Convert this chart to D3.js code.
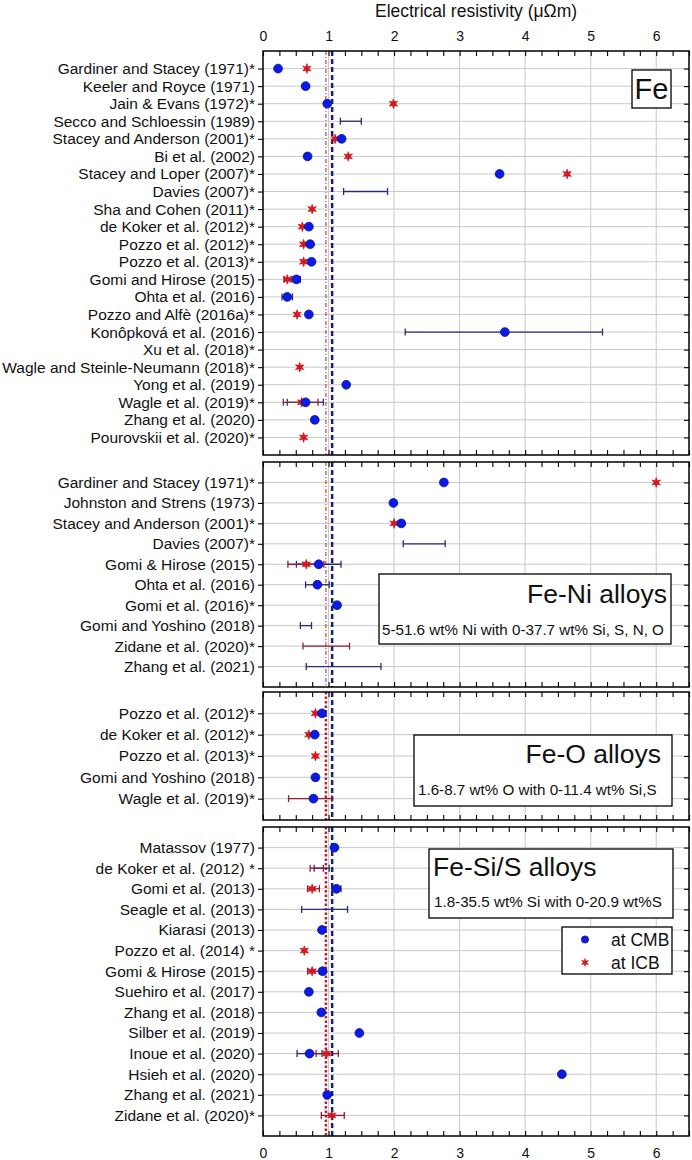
<!DOCTYPE html>
<html>
<head>
<meta charset="utf-8">
<script src="https://cdn.jsdelivr.net/npm/d3@7"></script>
<style>
  body { margin: 0; background: #fff; }
  svg text { font-family: "Liberation Sans", Arial, sans-serif; fill: #111; }
</style>
</head>
<body>
<svg id="chart" width="692" height="1160"></svg>
<script>
// ---------- data ----------
const xTicks = [0, 1, 2, 3, 4, 5, 6];
const refIcb = 0.96;   // red reference line
const refCmb = 1.055;  // blue reference line

// Fe
const feLabels = ["Gardiner and Stacey (1971)*", "Keeler and Royce (1971)", "Jain & Evans (1972)*",
  "Secco and Schloessin (1989)", "Stacey and Anderson (2001)*", "Bi et al. (2002)", "Stacey and Loper (2007)*",
  "Davies (2007)*", "Sha and Cohen (2011)*", "de Koker et al. (2012)*", "Pozzo et al. (2012)*",
  "Pozzo et al. (2013)*", "Gomi and Hirose (2015)", "Ohta et al. (2016)", "Pozzo and Alfè (2016a)*",
  "Konôpková et al. (2016)", "Xu et al. (2018)*", "Wagle and Steinle-Neumann (2018)*", "Yong et al. (2019)",
  "Wagle et al. (2019)*", "Zhang et al. (2020)", "Pourovskii et al. (2020)*"];
const feCmb = [0.23, 0.65, 0.98, null, 1.20, 0.68, 3.61, null, null, 0.70, 0.72,
  0.74, 0.51, 0.37, 0.70, 3.69, null, null, 1.27, 0.65, 0.79, null];
const feCmbErr = [null, null, null, [1.18, 1.50], null, null, null, [1.23, 1.90], null, null, null,
  null, [0.46, 0.57], [0.29, 0.45], null, [2.17, 5.18], null, null, null, [0.37, 0.92], [0.75, 0.83], null];
const feIcb = [0.67, null, 1.99, null, 1.10, 1.30, 4.64, null, 0.75, 0.60, 0.62,
  0.62, 0.37, null, 0.52, null, null, 0.56, null, 0.59, null, 0.62];
const feIcbErr = [null, null, null, null, null, null, null, null, null, null, null,
  null, [0.32, 0.43], null, null, null, null, null, null, [0.31, 0.84], null, null];

// Fe-Ni alloys
const niLabels = ["Gardiner and Stacey (1971)*", "Johnston and Strens (1973)", "Stacey and Anderson (2001)*",
  "Davies (2007)*", "Gomi & Hirose (2015)", "Ohta et al. (2016)", "Gomi et al. (2016)*",
  "Gomi and Yoshino (2018)", "Zidane et al. (2020)*", "Zhang et al. (2021)"];
const niCmb = [2.76, 1.99, 2.11, null, 0.85, 0.83, 1.13, null, null, null];
const niCmbErr = [null, null, null, [2.14, 2.78], [0.51, 1.19], [0.65, 1.01], null, [0.57, 0.74], null, [0.66, 1.80]];
const niIcb = [6.00, null, 2.00, null, 0.66, null, null, null, null, null];
const niIcbErr = [null, null, null, null, [0.38, 0.93], null, null, null, [0.61, 1.32], null];

// Fe-O alloys
const oLabels = ["Pozzo et al. (2012)*", "de Koker et al. (2012)*", "Pozzo et al. (2013)*",
  "Gomi and Yoshino (2018)", "Wagle et al. (2019)*"];
const oCmb = [0.90, 0.79, null, 0.80, 0.77];
const oCmbErr = [null, null, null, null, null];
const oIcb = [0.80, 0.70, 0.80, null, null];
const oIcbErr = [null, null, null, null, [0.39, 1.05]];

// Fe-Si/S alloys
const siLabels = ["Matassov (1977)", "de Koker et al. (2012) *", "Gomi et al. (2013)", "Seagle et al. (2013)",
  "Kiarasi (2013)", "Pozzo et al. (2014) *", "Gomi & Hirose (2015)", "Suehiro et al. (2017)",
  "Zhang et al. (2018)", "Silber et al. (2019)", "Inoue et al. (2020)", "Hsieh et al. (2020)",
  "Zhang et al. (2021)", "Zidane et al. (2020)*"];
const siCmb = [1.09, null, 1.12, null, 0.90, null, 0.91, 0.70, 0.89, 1.47, 0.71, 4.56, 0.98, null];
const siCmbErr = [null, [0.78, 1.01], [1.05, 1.19], [0.59, 1.29], null, null, null, null, null, null,
  [0.52, 0.90], null, null, null];
const siIcb = [null, null, 0.75, null, null, 0.63, 0.75, null, null, null, 0.97, null, null, 1.05];
const siIcbErr = [null, [0.72, 0.92], [0.68, 0.86], null, null, null, [0.68, 0.86], null, null, null,
  [0.81, 1.15], null, null, [0.89, 1.24]];

// ---------- chart ----------
const svg = d3.select("#chart");
const blue = "#0b1ae6", blueEdge = "#0a1290", navy = "#2a2e70";
const red = "#e3131b", maroon = "#8e1f34";
const x = d3.scaleLinear().domain([0, 6.5]).range([263, 689]);
const minorTicks = d3.range(0, 6.51, 0.25);

// six-pointed star like the plotting program's
const star6 = {
  draw(ctx, size) {
    const R = Math.sqrt(size) * 0.62, r = R * 0.45;
    for (let k = 0; k < 12; k++) {
      const a = -Math.PI / 2 + k * Math.PI / 6, rr = k % 2 ? r : R;
      if (k === 0) ctx.moveTo(rr * Math.cos(a), rr * Math.sin(a));
      else ctx.lineTo(rr * Math.cos(a), rr * Math.sin(a));
    }
    ctx.closePath();
  }
};

const panels = [
  { labels: feLabels, cmb: feCmb, cmbErr: feCmbErr, icb: feIcb, icbErr: feIcbErr, top: 51, bottom: 455, thinRed: true },
  { labels: niLabels, cmb: niCmb, cmbErr: niCmbErr, icb: niIcb, icbErr: niIcbErr, top: 462, bottom: 687, thinRed: true },
  { labels: oLabels, cmb: oCmb, cmbErr: oCmbErr, icb: oIcb, icbErr: oIcbErr, top: 692, bottom: 820, thinRed: false },
  { labels: siLabels, cmb: siCmb, cmbErr: siCmbErr, icb: siIcb, icbErr: siIcbErr, top: 827, bottom: 1136, thinRed: false }
];

panels.forEach((p, pi) => {
  const y = d3.scalePoint().domain(d3.range(p.labels.length)).range([p.top, p.bottom]).padding(1);
  const g = svg.append("g");

  // grid
  g.append("g").selectAll("line").data(xTicks.slice(1)).join("line")
    .attr("x1", d => x(d)).attr("x2", d => x(d))
    .attr("y1", p.top).attr("y2", p.bottom)
    .attr("stroke", "#c9c9c9").attr("stroke-width", 1);
  g.append("g").selectAll("line").data(y.domain()).join("line")
    .attr("x1", x(0)).attr("x2", x(6.5))
    .attr("y1", d => y(d)).attr("y2", d => y(d))
    .attr("stroke", "#c9c9c9").attr("stroke-width", 1);

  // reference lines
  g.append("line")
    .attr("x1", x(refIcb)).attr("x2", x(refIcb)).attr("y1", p.top).attr("y2", p.bottom)
    .attr("stroke", "#b3262a")
    .attr("stroke-width", p.thinRed ? 1 : 2.5)
    .attr("stroke-dasharray", p.thinRed ? "4,2,1,2" : "2.5,2");
  g.append("line")
    .attr("x1", x(refCmb)).attr("x2", x(refCmb)).attr("y1", p.top).attr("y2", p.bottom)
    .attr("stroke", "#1b1f78").attr("stroke-width", 2.5).attr("stroke-dasharray", "5,3");

  // error bars
  const bars = [];
  p.cmbErr.forEach((e, i) => { if (e) bars.push({ i, lo: e[0], hi: e[1], c: navy }); });
  p.icbErr.forEach((e, i) => { if (e) bars.push({ i, lo: e[0], hi: e[1], c: maroon }); });
  const bg = g.append("g").selectAll("g").data(bars).join("g")
    .attr("stroke", d => d.c).attr("stroke-width", 1.3);
  bg.append("line")
    .attr("x1", d => x(d.lo)).attr("x2", d => x(d.hi))
    .attr("y1", d => y(d.i)).attr("y2", d => y(d.i));
  bg.append("line")
    .attr("x1", d => x(d.lo)).attr("x2", d => x(d.lo))
    .attr("y1", d => y(d.i) - 3.5).attr("y2", d => y(d.i) + 3.5);
  bg.append("line")
    .attr("x1", d => x(d.hi)).attr("x2", d => x(d.hi))
    .attr("y1", d => y(d.i) - 3.5).attr("y2", d => y(d.i) + 3.5);

  // markers
  const icbPts = p.icb.map((v, i) => ({ v, i })).filter(d => d.v != null);
  const cmbPts = p.cmb.map((v, i) => ({ v, i })).filter(d => d.v != null);
  g.append("g").selectAll("path").data(icbPts).join("path")
    .attr("d", d3.symbol().type(star6).size(64))
    .attr("transform", d => `translate(${x(d.v)},${y(d.i)})`)
    .attr("fill", red).attr("stroke", "#a0101a").attr("stroke-width", 0.5);
  g.append("g").selectAll("circle").data(cmbPts).join("circle")
    .attr("cx", d => x(d.v)).attr("cy", d => y(d.i)).attr("r", 4.4)
    .attr("fill", blue).attr("stroke", blueEdge).attr("stroke-width", 0.8);

  // frame
  g.append("rect")
    .attr("x", x(0)).attr("y", p.top)
    .attr("width", x(6.5) - x(0)).attr("height", p.bottom - p.top)
    .attr("fill", "none").attr("stroke", "#000").attr("stroke-width", 1.5);

  // axes
  const left = g.append("g").attr("transform", `translate(${x(0)},0)`)
    .call(d3.axisLeft(y).tickSize(5).tickPadding(3).tickFormat(i => p.labels[i]));
  left.select(".domain").remove();
  left.selectAll("text").attr("font-size", 15.5).attr("font-family", "Liberation Sans, Arial, sans-serif");

  const right = g.append("g").attr("transform", `translate(${x(6.5)},0)`)
    .call(d3.axisLeft(y).tickSize(5).tickFormat(""));
  right.select(".domain").remove();

  const topAx = g.append("g").attr("transform", `translate(0,${p.top})`)
    .call(d3.axisBottom(x).tickValues(minorTicks).tickSize(5).tickFormat(""));
  topAx.select(".domain").remove();
  const botAx = g.append("g").attr("transform", `translate(0,${p.bottom})`)
    .call(d3.axisTop(x).tickValues(minorTicks).tickSize(5).tickFormat(""));
  botAx.select(".domain").remove();

  g.selectAll(".tick line").attr("stroke", "#000").attr("stroke-width", 1.1);

  if (pi === 0) {
    const lab = g.append("g").attr("transform", `translate(0,${p.top})`)
      .call(d3.axisTop(x).tickValues(xTicks).tickSize(0).tickPadding(10).tickFormat(d3.format("d")));
    lab.select(".domain").remove();
    lab.selectAll("text").attr("font-size", 14).attr("font-family", "Liberation Sans, Arial, sans-serif");
  }
  if (pi === panels.length - 1) {
    const lab = g.append("g").attr("transform", `translate(0,${p.bottom})`)
      .call(d3.axisBottom(x).tickValues(xTicks).tickSize(0).tickPadding(12).tickFormat(d3.format("d")));
    lab.select(".domain").remove();
    lab.selectAll("text").attr("font-size", 14).attr("font-family", "Liberation Sans, Arial, sans-serif");
  }
});

// axis title
svg.append("text")
  .attr("x", 476).attr("y", 17).attr("text-anchor", "middle")
  .attr("font-size", 17.5)
  .text("Electrical resistivity (μΩm)");

// annotation boxes
function box(x0, y0, x1, y1) {
  svg.append("rect").attr("x", x0).attr("y", y0).attr("width", x1 - x0).attr("height", y1 - y0)
    .attr("fill", "#fff").attr("stroke", "#000").attr("stroke-width", 1.3);
}
function label(tx, ty, s, size, anchor) {
  svg.append("text").attr("x", tx).attr("y", ty).attr("font-size", size)
    .attr("text-anchor", anchor || "start").text(s);
}

box(632, 70, 671, 108);
label(651.5, 99, "Fe", 29, "middle");

box(379, 574, 671, 644);
label(667, 603, "Fe-Ni alloys", 26.5, "end");
label(382, 635, "5-51.6 wt% Ni with 0-37.7 wt% Si, S, N, O", 15.2);

box(414, 735, 672, 806);
label(661, 763, "Fe-O alloys", 26.5, "end");
label(418, 795, "1.6-8.7 wt% O with 0-11.4 wt% Si,S", 15.2);

box(429, 849, 673, 918);
label(433, 876, "Fe-Si/S alloys", 26.5);
label(434, 907, "1.8-35.5 wt% Si with 0-20.9 wt%S", 15.2);

// legend
box(562, 927, 672, 974);
svg.append("circle").attr("cx", 585).attr("cy", 939.5).attr("r", 3.6)
  .attr("fill", blue).attr("stroke", blueEdge).attr("stroke-width", 0.8);
svg.append("path").attr("d", d3.symbol().type(star6).size(40)())
  .attr("transform", "translate(585,962.5)")
  .attr("fill", red).attr("stroke", "#a0101a").attr("stroke-width", 0.5);
label(611, 946, "at CMB", 17.5);
label(611, 969, "at ICB", 17.5);
</script>
</body>
</html>
